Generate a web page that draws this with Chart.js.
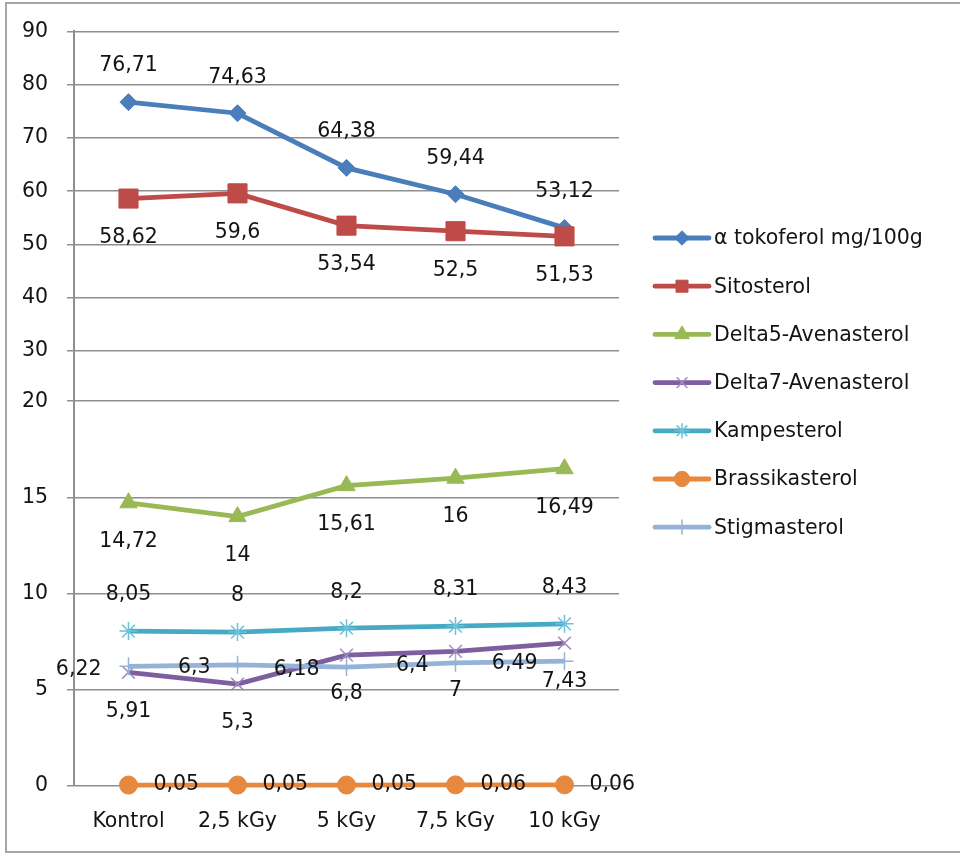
<!DOCTYPE html>
<html>
<head>
<meta charset="utf-8">
<script src="https://cdn.jsdelivr.net/npm/chart.js@4/dist/chart.umd.min.js"></script>
<style>
  html, body { margin: 0; padding: 0; background: #fff; overflow: hidden; }
  #wrap { width: 960px; height: 854px; }
  canvas { display: block; }
</style>
</head>
<body>
<div id="wrap"><canvas id="c" width="960" height="854"></canvas></div>
<script>
// Irradiation doses
const categories = ['Kontrol', '2,5 kGy', '5 kGy', '7,5 kGy', '10 kGy'];

// Measured contents per dose
const tokoferol      = [76.71, 74.63, 64.38, 59.44, 53.12];
const sitosterol     = [58.62, 59.6, 53.54, 52.5, 51.53];
const delta5         = [14.72, 14, 15.61, 16, 16.49];
const delta7         = [5.91, 5.3, 6.8, 7, 7.43];
const kampesterol    = [8.05, 8, 8.2, 8.31, 8.43];
const brassikasterol = [0.05, 0.05, 0.05, 0.06, 0.06];
const stigmasterol   = [6.22, 6.3, 6.18, 6.4, 6.49];

// Value axis ticks
const yTicks = [0, 5, 10, 15, 20, 30, 40, 50, 60, 70, 80, 90];

const FONT = '"DejaVu Sans", sans-serif';
const FONT_SIZE = 20.5;
const TEXT = '#141414';
const GRID = '#8f8f8f';

// Value axis with a stretched lower range: [value, fraction of axis height]
const Y_BREAKS = [[0, 0], [20, 0.5099], [30, 0.5762], [90, 1]];

class SegmentedScale extends Chart.LinearScale {
  static id = 'segmented';
  static defaults = {};
  determineDataLimits() {
    this.min = Y_BREAKS[0][0];
    this.max = Y_BREAKS[Y_BREAKS.length - 1][0];
  }
  buildTicks() {
    return yTicks.map(v => ({ value: v }));
  }
  _toDecimal(v) {
    const b = Y_BREAKS;
    if (v <= b[0][0]) return b[0][1];
    for (let i = 0; i < b.length - 1; i++) {
      if (v <= b[i + 1][0]) {
        const t = (v - b[i][0]) / (b[i + 1][0] - b[i][0]);
        return b[i][1] + t * (b[i + 1][1] - b[i][1]);
      }
    }
    return 1;
  }
  getPixelForValue(v) {
    if (v === null || v === undefined || isNaN(v)) return NaN;
    return this.getPixelForDecimal(this._toDecimal(v));
  }
  getValueForPixel(p) {
    const d = this.getDecimalForPixel(p);
    const b = Y_BREAKS;
    for (let i = 0; i < b.length - 1; i++) {
      if (d <= b[i + 1][1]) {
        const t = (d - b[i][1]) / (b[i + 1][1] - b[i][1]);
        return b[i][0] + t * (b[i + 1][0] - b[i][0]);
      }
    }
    return b[b.length - 1][0];
  }
}
Chart.register(SegmentedScale);

const fmt = v => String(v).replace('.', ',');

function series(label, data, color, markerColor, style, radius, labelPos, bw) {
  return {
    label, data,
    borderColor: color,
    backgroundColor: markerColor,
    borderWidth: 4.8,
    pointStyle: style,
    pointRadius: radius,
    pointHoverRadius: radius,
    pointBackgroundColor: markerColor,
    pointBorderColor: markerColor,
    pointBorderWidth: bw,
    tension: 0,
    labelPos
  };
}

const datasets = [
  series('α tokoferol mg/100g', tokoferol, '#4a7ebb', '#4a7ebb', 'rectRot', 8.5, 'above', 1),
  series('Sitosterol', sitosterol, '#be4b48', '#be4b48', 'rect', 13.5, 'below', 1),
  series('Delta5-Avenasterol', delta5, '#98b954', '#98b954', 'triangle', 10, 'below', 1),
  series('Delta7-Avenasterol', delta7, '#7d5fa0', '#a08cc0', 'crossRot', 9, 'below', 1.5),
  series('Kampesterol', kampesterol, '#46aac5', '#6cc0d8', 'star', 9, 'above', 1.5),
  series('Brassikasterol', brassikasterol, '#e6883e', '#e6883e', 'circle', 9, 'right', 1),
  series('Stigmasterol', stigmasterol, '#95b3d7', '#95b3d7', 'cross', 9, 'left', 1.5)
];
// later series painted over earlier ones
datasets.forEach((d, i) => { d.order = datasets.length - i; });

// White background and outer frame (open on the right)
const framePlugin = {
  id: 'frame',
  beforeDraw(chart) {
    const ctx = chart.ctx;
    ctx.save();
    ctx.fillStyle = '#fff';
    ctx.fillRect(0, 0, chart.width, chart.height);
    ctx.strokeStyle = '#a6a6a6';
    ctx.lineWidth = 2;
    ctx.beginPath();
    ctx.moveTo(chart.width, 3);
    ctx.lineTo(6, 3);
    ctx.lineTo(6, 852);
    ctx.lineTo(chart.width, 852);
    ctx.stroke();
    ctx.restore();
  }
};

// Value labels next to each point
const valueLabels = {
  id: 'valueLabels',
  afterDatasetsDraw(chart) {
    const ctx = chart.ctx;
    ctx.save();
    ctx.font = FONT_SIZE + 'px ' + FONT;
    ctx.fillStyle = TEXT;
    chart.data.datasets.forEach((ds, di) => {
      const meta = chart.getDatasetMeta(di);
      meta.data.forEach((pt, i) => {
        const txt = fmt(ds.data[i]);
        let x = pt.x, y = pt.y;
        ctx.textBaseline = 'middle';
        if (ds.labelPos === 'above') { ctx.textAlign = 'center'; y -= 36; }
        else if (ds.labelPos === 'below') { ctx.textAlign = 'center'; y += 39; }
        else if (ds.labelPos === 'left') { ctx.textAlign = 'right'; x -= 27; y += 3; }
        else { ctx.textAlign = 'left'; x += 25; }
        ctx.fillText(txt, x, y);
      });
    });
    ctx.restore();
  }
};

// Legend to the right: line with marker, then name
const sideLegend = {
  id: 'sideLegend',
  afterDraw(chart) {
    const ctx = chart.ctx;
    ctx.save();
    chart.data.datasets.forEach((ds, i) => {
      const y = 238 + i * 48.2;
      ctx.strokeStyle = ds.borderColor;
      ctx.lineWidth = 4.8;
      ctx.lineCap = 'round';
      ctx.beginPath();
      ctx.moveTo(655, y);
      ctx.lineTo(709, y);
      ctx.stroke();
      ctx.fillStyle = ds.pointBackgroundColor;
      ctx.strokeStyle = ds.pointBorderColor;
      ctx.lineWidth = ds.pointBorderWidth;
      ctx.lineCap = 'butt';
      Chart.helpers.drawPoint(ctx, {
        pointStyle: ds.pointStyle,
        radius: Math.min(ds.pointRadius, 10) * 0.85,
        rotation: 0,
        borderWidth: ds.pointBorderWidth
      }, 682, y);
      ctx.fillStyle = TEXT;
      ctx.font = FONT_SIZE + 'px ' + FONT;
      ctx.textAlign = 'left';
      ctx.textBaseline = 'middle';
      ctx.fillText(ds.label, 714, y + 1);
    });
    ctx.restore();
  }
};

new Chart(document.getElementById('c'), {
  type: 'line',
  data: { labels: categories, datasets },
  options: {
    responsive: false,
    devicePixelRatio: 1,
    animation: false,
    layout: { padding: { left: 0, top: 31, right: 341, bottom: 0 } },
    plugins: { legend: { display: false }, tooltip: { enabled: false } },
    scales: {
      x: {
        type: 'category',
        offset: true,
        grid: { display: false, drawTicks: false },
        border: { display: false },
        ticks: { color: TEXT, font: { family: FONT, size: FONT_SIZE }, padding: 23, maxRotation: 0 },
        afterFit(s) { s.height = 68; }
      },
      y: {
        type: 'segmented',
        position: 'left',
        grid: { color: GRID, lineWidth: 1.5, tickLength: 7, drawTicks: true },
        border: { display: true, color: GRID, width: 2 },
        ticks: {
          color: TEXT, font: { family: FONT, size: FONT_SIZE }, padding: 19,
          autoSkip: false, callback: v => fmt(v)
        },
        afterFit(s) { s.width = 74; }
      }
    }
  },
  plugins: [framePlugin, valueLabels, sideLegend]
});
</script>
</body>
</html>
